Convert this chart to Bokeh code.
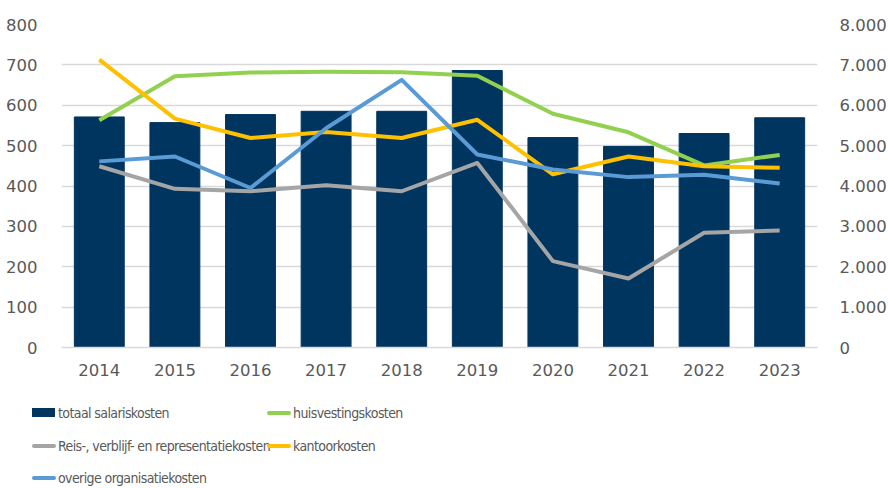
from bokeh.plotting import figure
from bokeh.models import Range1d, LinearAxis, FixedTicker, FactorRange, Div
from bokeh.layouts import column
from bokeh.embed import file_html
from bokeh.resources import INLINE

years = ["2014", "2015", "2016", "2017", "2018", "2019", "2020", "2021", "2022", "2023"]
salaris = [5710, 5570, 5770, 5850, 5850, 6860, 5200, 4980, 5300, 5690]
huisvesting = [563, 672, 681, 683, 682, 673, 579, 533, 451, 477]
reis = [449, 393, 387, 402, 387, 457, 214, 171, 284, 290]
kantoor = [713, 567, 519, 534, 519, 564, 429, 473, 449, 445]
overige = [461, 473, 395, 543, 663, 478, 441, 422, 428, 406]

series_labels = ["totaal salariskosten", "huisvestingskosten",
                 "Reis-, verblijf- en representatiekosten", "kantoorkosten",
                 "overige organisatiekosten"]

left_ticks = [0, 100, 200, 300, 400, 500, 600, 700, 800]
right_ticks = [0, 1000, 2000, 3000, 4000, 5000, 6000, 7000, 8000]
right_labels = ["0", "1.000", "2.000", "3.000", "4.000", "5.000", "6.000", "7.000", "8.000"]

TICK_FONT = "DejaVu Sans"
LEGEND_FONT = "'Liberation Sans Narrow', 'DejaVu Sans Condensed', sans-serif"
GRID = "#d9d9d9"
TXT = "#595959"
C_BAR = "#00355F"
C_H = "#92D050"
C_R = "#A5A5A5"
C_K = "#FFC000"
C_O = "#5B9BD5"
series_colors = [C_BAR, C_H, C_R, C_K, C_O]
series_kind = ["bar", "line", "line", "line", "line"]

W_LEFT, W_FRAME, W_RIGHT = 61, 756, 66
TOTAL_W = W_LEFT + W_FRAME + W_RIGHT

p = figure(x_range=FactorRange(*years), y_range=Range1d(0, 800),
           frame_width=W_FRAME, frame_height=323, output_backend="svg", toolbar_location=None,
           min_border_left=W_LEFT, min_border_right=W_RIGHT, min_border_top=24, min_border_bottom=33)
p.extra_y_ranges = {"right": Range1d(0, 8000)}
p.outline_line_color = None
p.xgrid.grid_line_color = None
p.ygrid.grid_line_color = GRID
p.ygrid.grid_line_width = 1.5
p.ygrid.ticker = FixedTicker(ticks=left_ticks)

p.vbar(x=years, top=salaris, width=0.66, y_range_name="right",
       fill_color=C_BAR, line_color=C_BAR)
for vals, col in [(huisvesting, C_H), (reis, C_R), (kantoor, C_K), (overige, C_O)]:
    p.line(years, vals, line_color=col, line_width=4, line_join="round")

def style_axis(ax):
    ax.axis_line_color = None
    ax.major_tick_line_color = None
    ax.minor_tick_line_color = None
    ax.major_label_text_font = TICK_FONT
    ax.major_label_text_font_size = "16.5px"
    ax.major_label_text_color = TXT

style_axis(p.yaxis[0])
p.yaxis[0].ticker = FixedTicker(ticks=left_ticks)
p.yaxis[0].major_label_standoff = 18

ra = LinearAxis(y_range_name="right", ticker=FixedTicker(ticks=right_ticks),
                major_label_overrides={t: s for t, s in zip(right_ticks, right_labels)})
style_axis(ra)
ra.major_label_standoff = 16
p.add_layout(ra, "right")

style_axis(p.xaxis[0])
p.xaxis[0].axis_line_color = GRID
p.xaxis[0].axis_line_width = 1.5
p.xaxis[0].major_label_standoff = 10

# legend (two columns, row-major) as an HTML strip below the chart
LEG_H = 106
col_x = [32, 267]
row_y = [33, 66, 98]
parts = []
for i, (lab, col, kind) in enumerate(zip(series_labels, series_colors, series_kind)):
    x = col_x[i % 2]
    y = row_y[i // 2]
    if kind == "bar":
        sw = (f'<div style="position:absolute;left:{x}px;top:{y-5}px;width:23px;height:9px;'
              f'background:{col};"></div>')
    else:
        sw = (f'<div style="position:absolute;left:{x}px;top:{y-2}px;width:24px;height:4px;'
              f'border-radius:2px;background:{col};"></div>')
    tx = (f'<div style="position:absolute;left:{x+26}px;top:{y-10}px;height:20px;line-height:20px;'
          f'white-space:nowrap;font-family:{LEGEND_FONT};font-size:14px;letter-spacing:-0.6px;'
          f'color:{TXT};">{lab}</div>')
    parts.append(sw + tx)
html = (f'<div style="position:relative;width:{TOTAL_W}px;height:{LEG_H}px;margin:0;padding:0;">'
        + "".join(parts) + '</div>')
leg = Div(text=html, width=TOTAL_W, height=LEG_H, margin=0)

lay = column(p, leg, spacing=0)
open("out.html", "w").write(file_html(lay, INLINE))
